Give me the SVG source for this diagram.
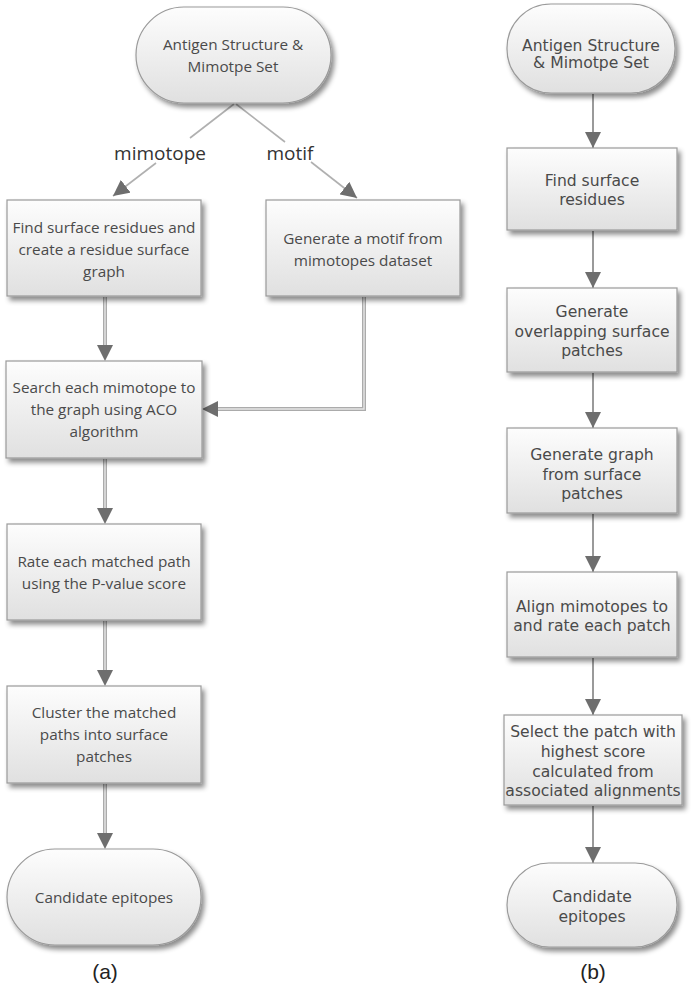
<svg xmlns="http://www.w3.org/2000/svg" width="697" height="987" viewBox="0 0 697 987">
<defs>
<linearGradient id="g" x1="0" y1="0" x2="0" y2="1">
<stop offset="0" stop-color="#fdfdfd"/>
<stop offset="1" stop-color="#e0e0e0"/>
</linearGradient>
<filter id="sh" x="-10%" y="-10%" width="130%" height="140%">
<feDropShadow dx="3" dy="4" stdDeviation="2.5" flood-color="#000" flood-opacity="0.45"/>
</filter>
<marker id="ah" viewBox="0 0 16 16" refX="16" refY="8" markerWidth="16" markerHeight="16" markerUnits="userSpaceOnUse" orient="auto">
<path d="M0,0 L16,8 L0,16 z" fill="#6e6e6e"/>
</marker>
</defs>
<style>
.n{fill:url(#g);stroke:#9a9a9a;stroke-width:1.2;filter:url(#sh)}
.ta{font-family:"Open Sans","Liberation Sans",sans-serif;font-size:15.3px;fill:#4a4a4a;text-anchor:middle}
.tb{font-family:"DejaVu Sans","Liberation Sans",sans-serif;font-size:15.6px;fill:#4a4a4a;text-anchor:middle}
.lb{font-family:"Open Sans","Liberation Sans",sans-serif;font-size:19px;fill:#333;text-anchor:middle}
.cap{font-family:"Liberation Sans",Arial,sans-serif;font-size:21px;fill:#222;text-anchor:middle}
.c1{fill:none;stroke:#ababab;stroke-width:4}
.c1i{fill:none;stroke:#e6e6e6;stroke-width:1.4}
.c2{fill:none;stroke:#9a9a9a;stroke-width:2}
.sl{fill:none;stroke:#b0b0b0;stroke-width:1.6}
</style>

<g id="connectors">
<!-- panel a -->
<line class="sl" x1="234" y1="104" x2="190" y2="138"/>
<line class="sl" x1="156" y1="163" x2="113" y2="196" marker-end="url(#ah)"/>
<line class="sl" x1="236" y1="104" x2="285" y2="142"/>
<line class="sl" x1="311" y1="162" x2="357" y2="198" marker-end="url(#ah)"/>
<path d="M105,297 V346" class="c1"/><path d="M105,297 V346" class="c1i"/>
<path d="M105,296 V361" class="c2" stroke-opacity="0" marker-end="url(#ah)"/>
<path d="M364,297 V409 H218" class="c1"/><path d="M364,297 V409 H218" class="c1i"/>
<path d="M364,409 H202" class="c2" stroke-opacity="0" marker-end="url(#ah)"/>
<path d="M105,459 V509" class="c1"/><path d="M105,459 V509" class="c1i"/>
<path d="M105,459 V524" class="c2" stroke-opacity="0" marker-end="url(#ah)"/>
<path d="M105,621 V671" class="c1"/><path d="M105,621 V671" class="c1i"/>
<path d="M105,621 V686" class="c2" stroke-opacity="0" marker-end="url(#ah)"/>
<path d="M105,784 V834" class="c1"/><path d="M105,784 V834" class="c1i"/>
<path d="M105,784 V849" class="c2" stroke-opacity="0" marker-end="url(#ah)"/>
<!-- panel b -->
<path d="M593,94 V148" class="c2" marker-end="url(#ah)"/>
<path d="M593,231 V288" class="c2" marker-end="url(#ah)"/>
<path d="M593,373 V428" class="c2" marker-end="url(#ah)"/>
<path d="M593,514 V572" class="c2" marker-end="url(#ah)"/>
<path d="M593,658 V715" class="c2" marker-end="url(#ah)"/>
<path d="M593,806 V863" class="c2" marker-end="url(#ah)"/>
</g>

<g id="labels">
<text class="lb" x="160" y="160">mimotope</text>
<text class="lb" x="290" y="160">motif</text>
<text class="cap" x="105" y="979">(a)</text>
<text class="cap" x="593" y="979">(b)</text>
</g>

<!-- panel a nodes -->
<g id="a-start">
<rect class="n" x="136" y="7" width="195" height="96" rx="48"/>
<text class="ta" x="233" y="50">Antigen Structure &amp;</text>
<text class="ta" x="233" y="72">Mimotpe Set</text>
</g>
<g id="a-find">
<rect class="n" x="7" y="200" width="194" height="96"/>
<text class="ta" x="104" y="233">Find surface residues and</text>
<text class="ta" x="104" y="255">create a residue surface</text>
<text class="ta" x="104" y="277">graph</text>
</g>
<g id="a-motif">
<rect class="n" x="266" y="200" width="194" height="96"/>
<text class="ta" x="363" y="244">Generate a motif from</text>
<text class="ta" x="363" y="266">mimotopes dataset</text>
</g>
<g id="a-search">
<rect class="n" x="6" y="361" width="196" height="97"/>
<text class="ta" x="104" y="393">Search each mimotope to</text>
<text class="ta" x="104" y="415">the graph using ACO</text>
<text class="ta" x="104" y="437">algorithm</text>
</g>
<g id="a-rate">
<rect class="n" x="7" y="524" width="194" height="96"/>
<text class="ta" x="104" y="567">Rate each matched path</text>
<text class="ta" x="104" y="589">using the P-value score</text>
</g>
<g id="a-cluster">
<rect class="n" x="7" y="686" width="194" height="97"/>
<text class="ta" x="104" y="718">Cluster the matched</text>
<text class="ta" x="104" y="740">paths into surface</text>
<text class="ta" x="104" y="762">patches</text>
</g>
<g id="a-end">
<rect class="n" x="7" y="849" width="194" height="96" rx="48"/>
<text class="ta" x="104" y="903">Candidate epitopes</text>
</g>

<!-- panel b nodes -->
<g id="b-start">
<rect class="n" x="507" y="4" width="168" height="89" rx="44"/>
<text class="tb" x="591" y="51">Antigen Structure</text>
<text class="tb" x="591" y="68">&amp; Mimotpe Set</text>
</g>
<g id="b-find">
<rect class="n" x="507" y="148" width="170" height="82"/>
<text class="tb" x="592" y="186">Find surface</text>
<text class="tb" x="592" y="205">residues</text>
</g>
<g id="b-overlap">
<rect class="n" x="507" y="288" width="170" height="84"/>
<text class="tb" x="592" y="317">Generate</text>
<text class="tb" x="592" y="337">overlapping surface</text>
<text class="tb" x="592" y="356">patches</text>
</g>
<g id="b-graph">
<rect class="n" x="507" y="428" width="170" height="85"/>
<text class="tb" x="592" y="460">Generate graph</text>
<text class="tb" x="592" y="480">from surface</text>
<text class="tb" x="592" y="499">patches</text>
</g>
<g id="b-align">
<rect class="n" x="507" y="572" width="170" height="85"/>
<text class="tb" x="592" y="612">Align mimotopes to</text>
<text class="tb" x="592" y="631">and rate each patch</text>
</g>
<g id="b-select">
<rect class="n" x="504" y="715" width="178" height="90"/>
<text class="tb" x="593" y="737">Select the patch with</text>
<text class="tb" x="593" y="757">highest score</text>
<text class="tb" x="593" y="777">calculated from</text>
<text class="tb" x="593" y="796">associated alignments</text>
</g>
<g id="b-end">
<rect class="n" x="507" y="863" width="170" height="84" rx="42"/>
<text class="tb" x="592" y="902">Candidate</text>
<text class="tb" x="592" y="922">epitopes</text>
</g>
</svg>
